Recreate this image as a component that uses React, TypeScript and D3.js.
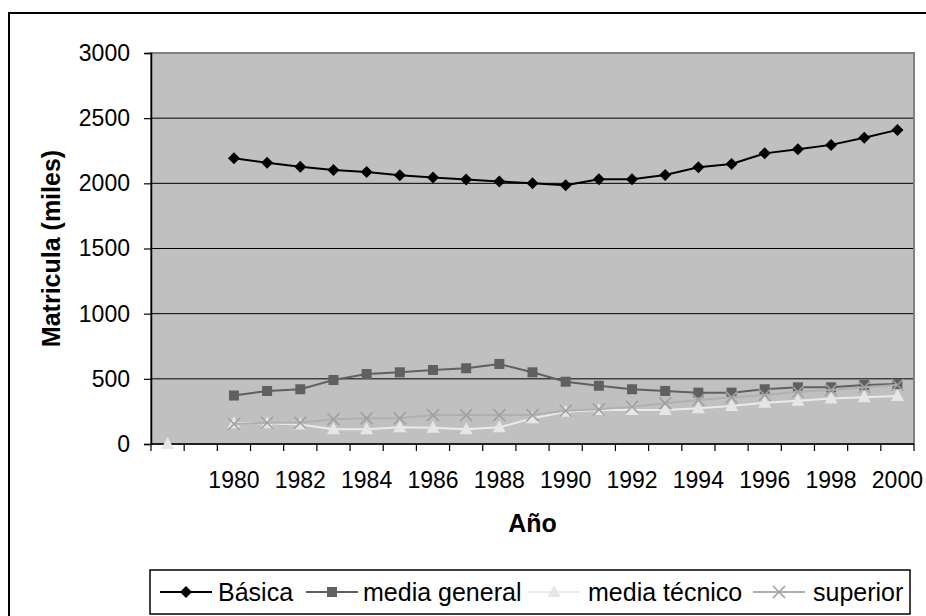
import React, { useEffect, useRef } from 'react';
import * as d3 from 'd3';

// categories (the first two slots have no year label in the source sheet)
const categories = ['', '', '1980', '1981', '1982', '1983', '1984', '1985', '1986', '1987', '1988', '1989',
    '1990', '1991', '1992', '1993', '1994', '1995', '1996', '1997', '1998', '1999', '2000'];

const basica = [null, null, 2192, 2158, 2128, 2102, 2087, 2062, 2045, 2030, 2015, 2000,
    1985, 2031, 2031, 2064, 2123, 2148, 2230, 2262, 2295, 2350, 2410];
const mediaGeneral = [null, null, 372, 407, 420, 491, 537, 550, 568, 581, 614, 550,
    478, 447, 420, 407, 394, 394, 420, 435, 435, 453, 460];
const mediaTecnico = [0, null, 160, 160, 150, 113, 113, 128, 125, 113, 128, 197,
    248, 261, 261, 261, 274, 292, 317, 332, 350, 358, 368];
const superior = [null, null, 153, 163, 163, 189, 197, 197, 222, 222, 222, 222,
    255, 266, 286, 312, 338, 358, 376, 401, 414, 435, 453];

const yTicks = [0, 500, 1000, 1500, 2000, 2500, 3000];

type Marker = 'diamond' | 'square' | 'triangle' | 'cross';

interface Series {
    name: string;
    values: (number | null)[];
    color: string;
    markerColor: string;
    marker: Marker;
}

const series: Series[] = [
    { name: 'Básica', values: basica, color: '#000000', markerColor: '#000000', marker: 'diamond' },
    { name: 'media general', values: mediaGeneral, color: '#606060', markerColor: '#606060', marker: 'square' },
    { name: 'media técnico', values: mediaTecnico, color: '#ebebeb', markerColor: '#e6e6e6', marker: 'triangle' },
    { name: 'superior', values: superior, color: '#b0b0b0', markerColor: '#a0a0a0', marker: 'cross' },
];

const FONT = '"Liberation Sans", Arial, sans-serif';

function drawMarker(g: d3.Selection<SVGGElement, unknown, null, undefined>, type: Marker, cx: number, cy: number, color: string) {
    if (type === 'diamond') {
        g.append('path')
            .attr('d', `M${cx},${cy - 6}L${cx + 6},${cy}L${cx},${cy + 6}L${cx - 6},${cy}Z`)
            .attr('fill', color);
    } else if (type === 'square') {
        g.append('rect')
            .attr('x', cx - 5).attr('y', cy - 5)
            .attr('width', 10).attr('height', 10)
            .attr('fill', color);
    } else if (type === 'triangle') {
        g.append('path')
            .attr('d', `M${cx},${cy - 7}L${cx + 6.5},${cy + 5}L${cx - 6.5},${cy + 5}Z`)
            .attr('fill', color);
    } else {
        g.append('path')
            .attr('d', `M${cx - 6},${cy - 6}L${cx + 6},${cy + 6}M${cx + 6},${cy - 6}L${cx - 6},${cy + 6}`)
            .attr('stroke', color)
            .attr('stroke-width', 1.6)
            .attr('fill', 'none');
    }
}

const App: React.FC = () => {
    const svgRef = useRef<SVGSVGElement>(null);

    useEffect(() => {
        if (!svgRef.current) return;
        const svg = d3.select(svgRef.current);
        svg.selectAll('*').remove();

        const plot = { left: 151, top: 53, right: 914, bottom: 444 };

        // outer chart frame
        svg.append('rect')
            .attr('x', 9).attr('y', 13)
            .attr('width', 960).attr('height', 660)
            .attr('fill', '#fff')
            .attr('stroke', '#000')
            .attr('stroke-width', 2);

        const x = d3.scaleBand<number>()
            .domain(d3.range(categories.length))
            .range([plot.left, plot.right])
            .padding(0);

        const y = d3.scaleLinear()
            .domain([0, 3000])
            .range([plot.bottom, plot.top]);

        const cx = (i: number) => (x(i) ?? 0) + x.bandwidth() / 2;

        // plot area
        svg.append('rect')
            .attr('x', plot.left).attr('y', plot.top)
            .attr('width', plot.right - plot.left)
            .attr('height', plot.bottom - plot.top)
            .attr('fill', '#c0c0c0')
            .attr('stroke', '#808080')
            .attr('stroke-width', 2);

        // gridlines
        svg.append('g')
            .selectAll('line')
            .data(yTicks.filter(t => t > 0 && t < 3000))
            .join('line')
            .attr('x1', plot.left).attr('x2', plot.right - 1)
            .attr('y1', d => y(d)).attr('y2', d => y(d))
            .attr('stroke', '#000')
            .attr('stroke-width', 1);

        // y axis
        const yAxis = svg.append('g')
            .attr('transform', `translate(${plot.left},0)`)
            .call(d3.axisLeft(y).tickValues(yTicks).tickSize(7).tickPadding(14).tickFormat(d => String(d)));
        yAxis.select('.domain').attr('stroke', '#000').attr('stroke-width', 1.5);
        yAxis.selectAll('.tick line').attr('stroke', '#000').attr('stroke-width', 1.2);
        yAxis.selectAll('.tick text')
            .attr('font-family', FONT)
            .attr('font-size', 23)
            .attr('fill', '#000');

        // x axis
        const xg = svg.append('g');
        xg.append('line')
            .attr('x1', plot.left).attr('x2', plot.right)
            .attr('y1', plot.bottom).attr('y2', plot.bottom)
            .attr('stroke', '#000').attr('stroke-width', 1.5);
        const boundaries = [...x.domain().map(i => x(i) ?? 0), plot.right];
        xg.selectAll('line.tick')
            .data(boundaries)
            .join('line')
            .attr('class', 'tick')
            .attr('x1', d => d).attr('x2', d => d)
            .attr('y1', plot.bottom).attr('y2', plot.bottom + 7)
            .attr('stroke', '#000').attr('stroke-width', 1.2);
        xg.selectAll('text')
            .data(categories.map((c, i) => ({ c, i })).filter(d => d.i % 2 === 0 && d.c !== ''))
            .join('text')
            .attr('x', d => cx(d.i))
            .attr('y', 488)
            .attr('text-anchor', 'middle')
            .attr('font-family', FONT)
            .attr('font-size', 23)
            .text(d => d.c);

        // axis titles
        svg.append('text')
            .attr('x', (plot.left + plot.right) / 2)
            .attr('y', 532)
            .attr('text-anchor', 'middle')
            .attr('font-family', FONT)
            .attr('font-weight', 'bold')
            .attr('font-size', 25)
            .text('Año');
        svg.append('text')
            .attr('transform', `translate(60,${(plot.top + plot.bottom) / 2}) rotate(-90)`)
            .attr('text-anchor', 'middle')
            .attr('font-family', FONT)
            .attr('font-weight', 'bold')
            .attr('font-size', 25)
            .text('Matricula (miles)');

        // series
        series.forEach(s => {
            const pts = s.values.map((v, i) => ({ v, i }));
            const line = d3.line<{ v: number | null; i: number }>()
                .defined(d => d.v !== null)
                .x(d => cx(d.i))
                .y(d => y(d.v as number));
            svg.append('path')
                .datum(pts)
                .attr('fill', 'none')
                .attr('stroke', s.color)
                .attr('stroke-width', 2)
                .attr('d', line);
            const mg = svg.append('g');
            pts.filter(d => d.v !== null).forEach(d => drawMarker(mg, s.marker, cx(d.i), y(d.v as number), s.markerColor));
        });

        // legend
        const legend = svg.append('g');
        legend.append('rect')
            .attr('x', 150).attr('y', 570)
            .attr('width', 760).attr('height', 44)
            .attr('fill', '#fff')
            .attr('stroke', '#000')
            .attr('stroke-width', 1.5);
        const legendX = [160, 306, 528, 753];
        const legendTextX = [218, 363, 588, 813];
        series.forEach((s, i) => {
            const lx = legendX[i];
            const ly = 592;
            legend.append('line')
                .attr('x1', lx).attr('x2', lx + 52)
                .attr('y1', ly).attr('y2', ly)
                .attr('stroke', s.color).attr('stroke-width', 2);
            drawMarker(legend, s.marker, lx + 26, ly, s.markerColor);
            legend.append('text')
                .attr('x', legendTextX[i])
                .attr('y', ly)
                .attr('dy', '0.36em')
                .attr('font-family', FONT)
                .attr('font-size', 25)
                .text(s.name);
        });
    }, []);

    return (
        <svg ref={svgRef} width={926} height={616}
            style={{ position: 'absolute', left: 0, top: 0, background: '#fff' }} />
    );
};

export default App;
